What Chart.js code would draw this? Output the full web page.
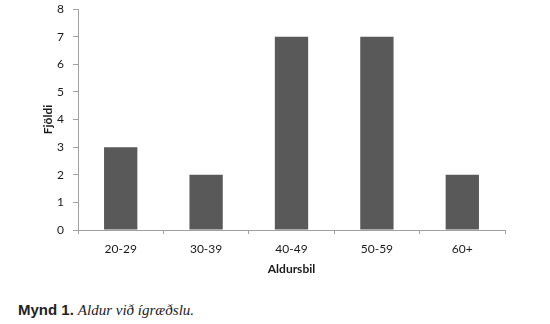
<!DOCTYPE html>
<html>
<head>
<meta charset="utf-8">
<script src="https://cdn.jsdelivr.net/npm/chart.js@4"></script>
<style>
  body { margin: 0; background: #fff; width: 550px; height: 324px; position: relative; overflow: hidden; }
  #wrap { position: absolute; left: 0; top: 0; width: 550px; height: 285px; }
  #caption { position: absolute; left: 18px; top: 301px; color: #222; white-space: nowrap; line-height: 18px; }
  #caption .lead { font-family: "Liberation Sans", Arial, sans-serif; font-weight: bold; font-size: 15px; }
  #caption .rest { font-family: "Liberation Serif", "DejaVu Serif", serif; font-style: italic; font-size: 15px; }
</style>
</head>
<body>
<div id="wrap"><canvas id="ageChart"></canvas></div>
<div id="caption"><span class="lead">Mynd 1.</span> <span class="rest">Aldur við ígræðslu.</span></div>
<script>
// data
const ageGroups = ['20-29', '30-39', '40-49', '50-59', '60+'];
const counts = [3, 2, 7, 7, 2];
const yTicks = [0, 1, 2, 3, 4, 5, 6, 7, 8];

const axisColor = '#a0a0a0';
const textColor = '#1a1a1a';

const ctx = document.getElementById('ageChart').getContext('2d');
const ageChart = new Chart(ctx, {
    type: 'bar',
    data: {
        labels: ageGroups,
        datasets: [{
            label: 'Fjöldi',
            data: counts,
            backgroundColor: '#595959',
            borderWidth: 0,
            categoryPercentage: 1,
            barPercentage: 0.39
        }]
    },
    options: {
        responsive: true,
        maintainAspectRatio: false,
        animation: false,
        layout: {
            padding: { left: 41, right: 45, top: 9, bottom: 9 }
        },
        plugins: {
            legend: { display: false },
            tooltip: { enabled: false }
        },
        scales: {
            x: {
                grid: { drawOnChartArea: false, drawTicks: true, tickLength: 4, color: axisColor, offset: true },
                border: { color: axisColor },
                ticks: { color: textColor, font: { family: 'Lato', size: 12 }, padding: 8, maxRotation: 0 },
                title: {
                    display: true,
                    text: 'Aldursbil',
                    color: textColor,
                    font: { family: 'Lato', size: 12, weight: 'bold' },
                    padding: 0
                },
                afterFit: s => { s.height = 46; }
            },
            y: {
                min: 0,
                max: 8,
                afterBuildTicks: s => { s.ticks = yTicks.map(v => ({ value: v })); },
                grid: { drawOnChartArea: false, drawTicks: true, tickLength: 5, color: axisColor },
                border: { color: axisColor },
                ticks: { color: textColor, font: { family: 'Lato', size: 12 }, padding: 9 },
                title: {
                    display: true,
                    text: 'Fjöldi',
                    color: textColor,
                    font: { family: 'Lato', size: 12, weight: 'bold' },
                    padding: 0
                },
                afterFit: s => { s.width = 37; s.paddingTop = 0; s.paddingBottom = 0; }
            }
        }
    }
});
</script>
</body>
</html>
